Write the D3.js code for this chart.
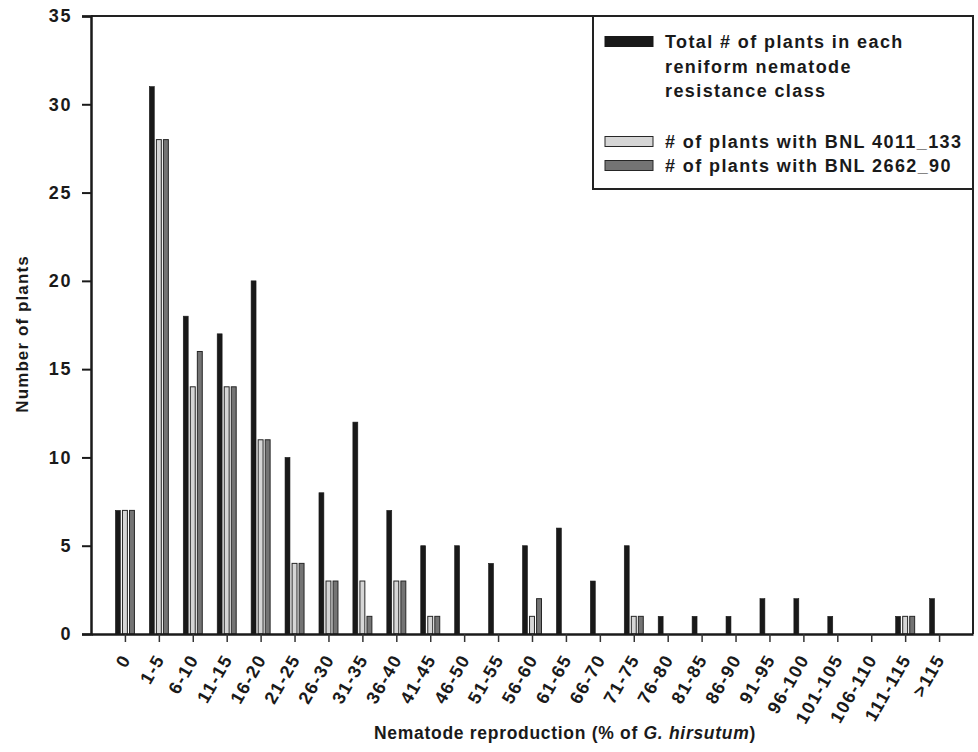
<!DOCTYPE html>
<html>
<head>
<meta charset="utf-8">
<script src="https://cdn.jsdelivr.net/npm/d3@7"></script>
<style>
  body { margin: 0; background: #fff; }
  text { font-family: "Liberation Sans", Arial, sans-serif; font-weight: bold; fill: #1a1a1a; }
</style>
</head>
<body>
<div id="chart"></div>
<script>
// data
var categories = ["0", "1-5", "6-10", "11-15", "16-20", "21-25", "26-30", "31-35", "36-40",
  "41-45", "46-50", "51-55", "56-60", "61-65", "66-70", "71-75", "76-80", "81-85", "86-90",
  "91-95", "96-100", "101-105", "106-110", "111-115", ">115"];
var totalPlants = [7, 31, 18, 17, 20, 10, 8, 12, 7, 5, 5, 4, 5, 6, 3, 5, 1, 1, 1, 2, 2, 1, 0, 1, 2];
var bnl4011 = [7, 28, 14, 14, 11, 4, 3, 3, 3, 1, 0, 0, 1, 0, 0, 1, 0, 0, 0, 0, 0, 0, 0, 1, 0];
var bnl2662 = [7, 28, 16, 14, 11, 4, 3, 1, 3, 1, 0, 0, 2, 0, 0, 1, 0, 0, 0, 0, 0, 0, 0, 1, 0];
var yTicks = [0, 5, 10, 15, 20, 25, 30, 35];
var seriesKeys = ["total", "bnl4011", "bnl2662"];
var legendLines = [
  ["Total # of plants in each", "reniform nematode", "resistance class"],
  ["# of plants with BNL 4011_133"],
  ["# of plants with BNL 2662_90"]
];

var width = 978,
  height = 752,
  margin = { top: 16, right: 5, bottom: 118, left: 91 };

var fills = { total: "#191919", bnl4011: "#d6d6d6", bnl2662: "#747474" };
var strokes = { total: "#191919", bnl4011: "#262626", bnl2662: "#262626" };

var rows = categories.map(function(c, i) {
  return { cat: c, total: totalPlants[i], bnl4011: bnl4011[i], bnl2662: bnl2662[i] };
});

var svg = d3.select("#chart")
  .append("svg")
  .attr("width", width)
  .attr("height", height);

var x = d3.scalePoint()
  .domain(categories)
  .range([margin.left, width - margin.right])
  .padding(1);

var xInner = d3.scaleBand()
  .domain(seriesKeys)
  .range([-9.5, 9.5])
  .paddingInner(0.3);

var y = d3.scaleLinear()
  .domain([0, 35])
  .range([height - margin.bottom, margin.top]);

// bars
var groups = svg.append("g")
  .selectAll("g")
  .data(rows)
  .enter()
  .append("g")
  .attr("transform", function(d) { return "translate(" + x(d.cat) + ",0)"; });

groups.selectAll("rect")
  .data(function(d) {
    return seriesKeys.map(function(k) { return { key: k, value: d[k] }; })
      .filter(function(e) { return e.value > 0; });
  })
  .enter()
  .append("rect")
  .attr("x", function(d) { return xInner(d.key); })
  .attr("width", xInner.bandwidth())
  .attr("y", function(d) { return y(d.value); })
  .attr("height", function(d) { return y(0) - y(d.value); })
  .attr("fill", function(d) { return fills[d.key]; })
  .attr("stroke", function(d) { return strokes[d.key]; })
  .attr("stroke-width", function(d) { return d.key === "total" ? 0.6 : 1; });

// frame (top and right)
svg.append("path")
  .attr("d", "M" + margin.left + "," + y(35) + "H" + (width - margin.right) + "V" + y(0))
  .attr("fill", "none")
  .attr("stroke", "#222")
  .attr("stroke-width", 2);

// y axis
var yAxis = svg.append("g")
  .attr("transform", "translate(" + margin.left + ",0)")
  .call(d3.axisLeft(y).tickValues(yTicks).tickSize(9).tickPadding(10).tickFormat(d3.format("d")));
yAxis.select(".domain").attr("stroke", "#1a1a1a").attr("stroke-width", 2.5);
yAxis.selectAll(".tick line").attr("stroke", "#1a1a1a").attr("stroke-width", 2);
yAxis.selectAll(".tick text")
  .style("font-size", "18px")
  .style("letter-spacing", "1.6px")
  .style("font-family", "'Liberation Sans', Arial, sans-serif")
  .style("font-weight", "bold")
  .attr("fill", "#1a1a1a");

// x axis
var xAxis = svg.append("g")
  .attr("transform", "translate(0," + y(0) + ")")
  .call(d3.axisBottom(x).tickSize(8).tickSizeOuter(0));
xAxis.select(".domain").attr("stroke", "#1a1a1a").attr("stroke-width", 2.5);
xAxis.selectAll(".tick line").attr("stroke", "#333").attr("stroke-width", 1.5);
xAxis.selectAll(".tick text")
  .attr("x", 0)
  .attr("y", 0)
  .attr("dy", 0)
  .attr("text-anchor", "end")
  .attr("transform", "translate(6,25) rotate(-60)")
  .style("font-size", "18px")
  .style("letter-spacing", "1.5px")
  .style("font-family", "'Liberation Sans', Arial, sans-serif")
  .style("font-weight", "bold")
  .attr("fill", "#1a1a1a");

// axis titles
svg.append("text")
  .attr("transform", "translate(28," + 334 + ") rotate(-90)")
  .attr("text-anchor", "middle")
  .style("font-size", "17px")
  .style("letter-spacing", "1.1px")
  .text("Number of plants");

var xTitle = svg.append("text")
  .attr("x", (margin.left + width - margin.right) / 2 + 33)
  .attr("y", 739)
  .attr("text-anchor", "middle")
  .style("font-size", "17.5px")
  .style("letter-spacing", "0.7px");
xTitle.append("tspan").text("Nematode reproduction (% of ");
xTitle.append("tspan").style("font-style", "italic").text("G. hirsutum");
xTitle.append("tspan").text(")");

// legend box
var legendLeft = 593,
  legendBottom = 189;
svg.append("path")
  .attr("d", "M" + legendLeft + "," + y(35) + "V" + legendBottom + "H" + (width - margin.right))
  .attr("fill", "none")
  .attr("stroke", "#222")
  .attr("stroke-width", 2);

var legendY = [48, 148, 172];
var legend = svg.append("g")
  .selectAll("g")
  .data(seriesKeys)
  .enter()
  .append("g")
  .attr("transform", function(d, i) { return "translate(0," + legendY[i] + ")"; });

legend.append("rect")
  .attr("x", 605)
  .attr("y", -11.5)
  .attr("width", 48)
  .attr("height", 10)
  .attr("fill", function(d) { return fills[d]; })
  .attr("stroke", function(d) { return strokes[d]; })
  .attr("stroke-width", 1);

legend.append("text")
  .attr("x", 665)
  .style("font-size", "18px")
  .style("letter-spacing", "1.4px")
  .selectAll("tspan")
  .data(function(d, i) { return legendLines[i]; })
  .enter()
  .append("tspan")
  .attr("x", 665)
  .attr("dy", function(d, i) { return i === 0 ? 0 : 24.5; })
  .text(function(d) { return d; });
</script>
</body>
</html>
